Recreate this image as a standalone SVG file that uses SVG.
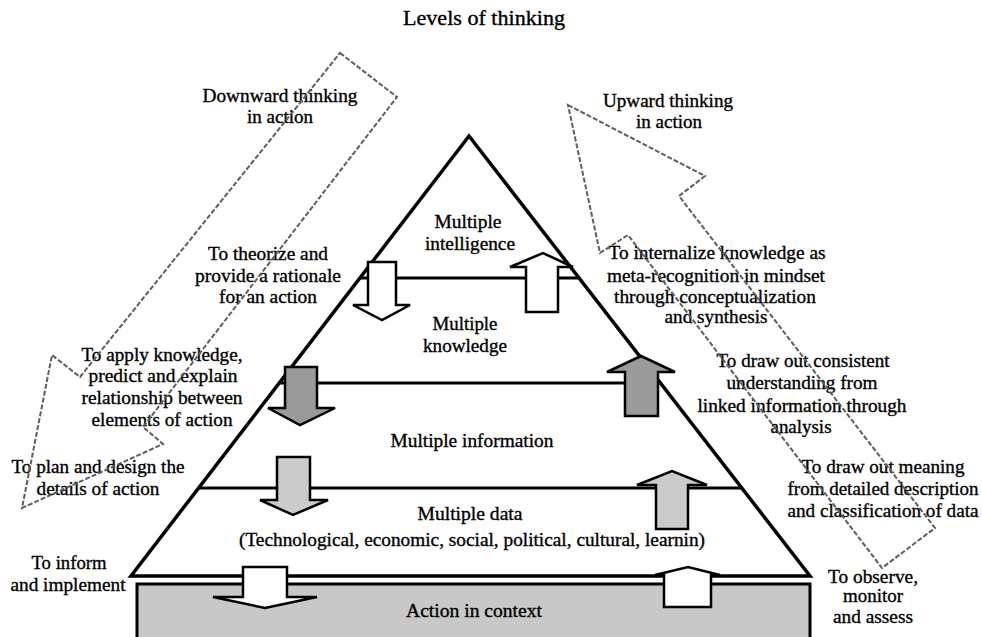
<svg xmlns="http://www.w3.org/2000/svg" width="982" height="637" viewBox="0 0 982 637">
  <style>
    text { font-family: "Liberation Serif", "Times New Roman", serif; font-size: 19px; fill: #000; stroke: #000; stroke-width: 0.35px; text-anchor: middle; }
    .title { font-size: 20px; }
    .layer { stroke: #000; stroke-width: 3; }
    .blk { stroke: #000; stroke-width: 2.5; stroke-linejoin: miter; }
    .white { fill: #fff; }
    .dark { fill: #9a9a9a; }
    .light { fill: #cbcbcb; }
    .flow { fill: none; stroke: #5e5e5e; stroke-width: 2; stroke-dasharray: 5 2; stroke-linejoin: miter; }
  </style>

  <text class="title" x="484" y="25" textLength="162" lengthAdjust="spacingAndGlyphs">Levels of thinking</text>

  <!-- base: action in context -->
  <g id="action-context">
    <rect x="137" y="584" width="673" height="60" fill="#c8c8c8" stroke="#000" stroke-width="3"/>
    <text x="474" y="617" textLength="136" lengthAdjust="spacingAndGlyphs">Action in context</text>
  </g>

  <!-- pyramid of levels -->
  <g id="pyramid">
    <polygon points="469,136 810,576 131,576" fill="#fff" stroke="#000" stroke-width="3.5" stroke-linejoin="miter"/>
    <line class="layer" x1="360" y1="278" x2="579" y2="278"/>
    <line class="layer" x1="279" y1="383" x2="660" y2="383"/>
    <line class="layer" x1="199" y1="488" x2="742" y2="488"/>
  </g>

  <g id="level-intelligence">
    <text x="468" y="228" textLength="67" lengthAdjust="spacingAndGlyphs">Multiple</text>
    <text x="470" y="250" textLength="90" lengthAdjust="spacingAndGlyphs">intelligence</text>
  </g>
  <g id="level-knowledge">
    <text x="465" y="330" textLength="65" lengthAdjust="spacingAndGlyphs">Multiple</text>
    <text x="465" y="352" textLength="84" lengthAdjust="spacingAndGlyphs">knowledge</text>
  </g>
  <g id="level-information">
    <text x="472" y="447" textLength="163" lengthAdjust="spacingAndGlyphs">Multiple information</text>
  </g>
  <g id="level-data">
    <text x="470" y="520" textLength="105" lengthAdjust="spacingAndGlyphs">Multiple data</text>
    <text x="472" y="546" textLength="466" lengthAdjust="spacingAndGlyphs">(Technological, economic, social, political, cultural, learnin)</text>
  </g>

  <!-- side labels, downward side -->
  <g id="downward-label">
    <text x="280" y="102" textLength="155" lengthAdjust="spacingAndGlyphs">Downward thinking</text>
    <text x="280" y="123" textLength="66" lengthAdjust="spacingAndGlyphs">in action</text>
  </g>
  <g id="theorize">
    <text x="268" y="260" textLength="120" lengthAdjust="spacingAndGlyphs">To theorize and</text>
    <text x="268" y="282" textLength="146" lengthAdjust="spacingAndGlyphs">provide a rationale</text>
    <text x="268" y="303" textLength="98" lengthAdjust="spacingAndGlyphs">for an action</text>
  </g>
  <g id="apply">
    <text x="162" y="361" textLength="161" lengthAdjust="spacingAndGlyphs">To apply knowledge,</text>
    <text x="163" y="382" textLength="149" lengthAdjust="spacingAndGlyphs">predict and explain</text>
    <text x="162" y="404" textLength="161" lengthAdjust="spacingAndGlyphs">relationship between</text>
    <text x="162" y="426" textLength="141" lengthAdjust="spacingAndGlyphs">elements of action</text>
  </g>
  <g id="plan">
    <text x="98" y="473" textLength="173" lengthAdjust="spacingAndGlyphs">To plan and design the</text>
    <text x="98" y="495" textLength="123" lengthAdjust="spacingAndGlyphs">details of action</text>
  </g>
  <g id="inform">
    <text x="69" y="569" textLength="75" lengthAdjust="spacingAndGlyphs">To inform</text>
    <text x="68" y="591" textLength="115" lengthAdjust="spacingAndGlyphs">and implement</text>
  </g>

  <!-- side labels, upward side -->
  <g id="upward-label">
    <text x="668" y="107" textLength="130" lengthAdjust="spacingAndGlyphs">Upward thinking</text>
    <text x="669" y="128" textLength="66" lengthAdjust="spacingAndGlyphs">in action</text>
  </g>
  <g id="internalize">
    <text x="717" y="259" textLength="217" lengthAdjust="spacingAndGlyphs">To internalize knowledge as</text>
    <text x="716" y="282" textLength="218" lengthAdjust="spacingAndGlyphs">meta-recognition in mindset</text>
    <text x="715" y="303" textLength="202" lengthAdjust="spacingAndGlyphs">through conceptualization</text>
    <text x="716" y="323" textLength="103" lengthAdjust="spacingAndGlyphs">and synthesis</text>
  </g>
  <g id="consistent">
    <text x="803" y="367" textLength="173" lengthAdjust="spacingAndGlyphs">To draw out consistent</text>
    <text x="802" y="389" textLength="151" lengthAdjust="spacingAndGlyphs">understanding from</text>
    <text x="802" y="412" textLength="209" lengthAdjust="spacingAndGlyphs">linked information through</text>
    <text x="801" y="433" textLength="61" lengthAdjust="spacingAndGlyphs">analysis</text>
  </g>
  <g id="meaning">
    <text x="883" y="473" textLength="163" lengthAdjust="spacingAndGlyphs">To draw out meaning</text>
    <text x="883" y="495" textLength="191" lengthAdjust="spacingAndGlyphs">from detailed description</text>
    <text x="883" y="517" textLength="191" lengthAdjust="spacingAndGlyphs">and classification of data</text>
  </g>
  <g id="observe">
    <text x="873" y="583" textLength="90" lengthAdjust="spacingAndGlyphs">To observe,</text>
    <text x="873" y="602" textLength="60" lengthAdjust="spacingAndGlyphs">monitor</text>
    <text x="873" y="623" textLength="80" lengthAdjust="spacingAndGlyphs">and assess</text>
  </g>

  <!-- connectors: block arrows between levels and the two thinking flows -->
  <g id="connectors">
    <path class="blk white" d="M368,262 H396 V305 H410 L382,320 L353,305 H368 Z"/>
    <path class="blk white" d="M526,312 V267 H510 L543,253 L573,267 H558 V312 Z"/>
    <path class="blk dark" d="M285,367 H317 V408 H335 L300,425 L268,408 H285 Z"/>
    <path class="blk dark" d="M625,416 V372 H607 L641,356 L675,372 H658 V416 Z"/>
    <path class="blk light" d="M277,457 H310 V500 H328 L293,515 L260,500 H277 Z"/>
    <path class="blk light" d="M656,529 V485 H637 L672,471 L707,485 H688 V529 Z"/>
    <path class="blk white" d="M243,567 H287 V597 H317 L265,608 L213,597 H243 Z"/>
    <path class="blk white" d="M664,607 V575 H655 L688,567 L720,575 H711 V607 Z"/>

    <polygon class="flow" points="340,53 397,97 143,427 163,444 22,508 52,355 80,377"/>
    <polygon class="flow" points="568,105 705,176 679,196 935,528 882,568 628,235 600,253"/>
  </g>
</svg>
